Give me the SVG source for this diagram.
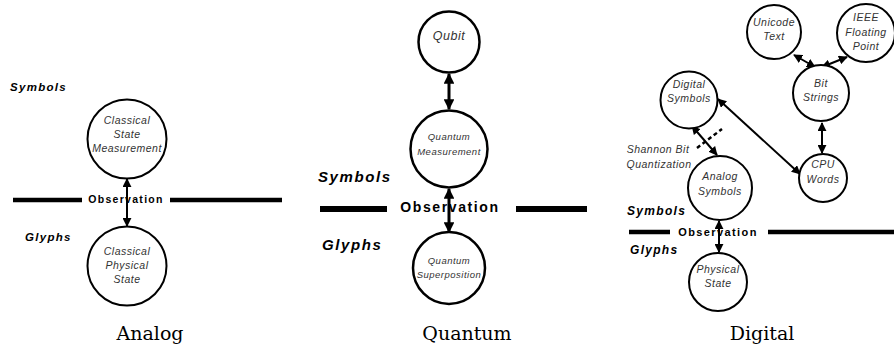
<svg xmlns="http://www.w3.org/2000/svg" width="894" height="345" viewBox="0 0 894 345">
<style>
.node{fill:#fff;stroke:#000;stroke-width:2}
.q{stroke-width:2.5}
.lbl{font-family:"Liberation Sans",Arial,sans-serif;font-style:italic;fill:#333;text-anchor:middle;letter-spacing:0.5px}
.side{font-family:"Liberation Sans",Arial,sans-serif;font-style:italic;font-weight:bold;fill:#000}
.obs{font-family:"Liberation Sans",Arial,sans-serif;font-weight:bold;fill:#000;text-anchor:middle}
.cap{font-family:"DejaVu Serif","Liberation Serif",serif;fill:#000;text-anchor:middle}
.bar{stroke:#000;fill:none}
.edge{stroke:#000;fill:none;stroke-width:2;marker-start:url(#ah);marker-end:url(#ah)}
.edgeq{stroke:#000;fill:none;stroke-width:3;marker-start:url(#ahq);marker-end:url(#ahq)}
</style>
<defs>
<marker id="ah" viewBox="0 0 10 10" refX="9" refY="5" markerWidth="4.5" markerHeight="4.5" orient="auto-start-reverse" markerUnits="strokeWidth"><path d="M0,0 L10,5 L0,10 z" fill="#000"/></marker>
<marker id="ahq" viewBox="0 0 10 10" refX="9" refY="5" markerWidth="3.6" markerHeight="3.6" orient="auto-start-reverse" markerUnits="strokeWidth"><path d="M0,0 L10,5 L0,10 z" fill="#000"/></marker>
</defs>

<!-- Analog panel -->
<g id="analog-labels">
<text class="side" x="10" y="91" font-size="11.5" letter-spacing="1.3">Symbols</text>
<text class="side" x="25" y="241" font-size="11.5" letter-spacing="1.3">Glyphs</text>
<line class="bar" x1="13" y1="200" x2="82" y2="200" stroke-width="4.5"/>
<line class="bar" x1="170" y1="200" x2="282" y2="200" stroke-width="4.5"/>
<text class="obs" x="126" y="203" font-size="10.5" letter-spacing="1.3">Observation</text>
<text class="cap" x="150" y="340" font-size="19">Analog</text>
</g>
<g id="connectors-analog">
<line class="edge" x1="127" y1="179" x2="127" y2="226"/>
</g>
<g id="classical-state-measurement">
<circle class="node" cx="127" cy="139" r="39.5"/>
<text class="lbl" x="127" y="124" font-size="10.5">Classical</text>
<text class="lbl" x="127" y="138" font-size="10.5">State</text>
<text class="lbl" x="127" y="152" font-size="10.5">Measurement</text>
</g>
<g id="classical-physical-state">
<circle class="node" cx="127" cy="266" r="39.5"/>
<text class="lbl" x="127" y="255" font-size="10.5">Classical</text>
<text class="lbl" x="127" y="269" font-size="10.5">Physical</text>
<text class="lbl" x="127" y="283" font-size="10.5">State</text>
</g>

<!-- Quantum panel -->
<g id="quantum-labels">
<text class="side" x="318" y="182" font-size="15" letter-spacing="1.6">Symbols</text>
<text class="side" x="322" y="250" font-size="15" letter-spacing="1.6">Glyphs</text>
<line class="bar" x1="320" y1="209" x2="387" y2="209" stroke-width="6"/>
<line class="bar" x1="516" y1="209" x2="587" y2="209" stroke-width="6"/>
<text class="obs" x="450" y="211.5" font-size="14" letter-spacing="1.6">Observation</text>
<text class="cap" x="467" y="340" font-size="19">Quantum</text>
</g>
<g id="connectors-quantum">
<line class="edgeq" x1="449" y1="74" x2="449" y2="109"/>
<line class="edgeq" x1="449" y1="189" x2="449" y2="232"/>
</g>
<g id="qubit">
<circle class="node q" cx="449" cy="42" r="30.5"/>
<text class="lbl" x="449" y="40" font-size="12.5" letter-spacing="0.8">Qubit</text>
</g>
<g id="quantum-measurement">
<circle class="node q" cx="449" cy="149" r="38.5"/>
<text class="lbl" x="449" y="140" font-size="9.5">Quantum</text>
<text class="lbl" x="449" y="155" font-size="9.5">Measurement</text>
</g>
<g id="quantum-superposition">
<circle class="node q" cx="449" cy="268" r="36"/>
<text class="lbl" x="449" y="264" font-size="9.5">Quantum</text>
<text class="lbl" x="449" y="278" font-size="9.5" letter-spacing="0.3">Superposition</text>
</g>

<!-- Digital panel -->
<g id="digital-labels">
<text class="side" x="627" y="215" font-size="12" letter-spacing="1.3">Symbols</text>
<text class="side" x="630" y="254" font-size="12" letter-spacing="1.3">Glyphs</text>
<line class="bar" x1="629" y1="232" x2="670" y2="232" stroke-width="4.5"/>
<line class="bar" x1="768" y1="232" x2="894" y2="232" stroke-width="4.5"/>
<text class="obs" x="718" y="236" font-size="11" letter-spacing="1.4">Observation</text>
<text class="lbl" x="658" y="153" font-size="10.5">Shannon Bit</text>
<text class="lbl" x="659" y="168" font-size="10.5">Quantization</text>
<text class="cap" x="762" y="340" font-size="19">Digital</text>
</g>
<g id="connectors-digital">
<line class="edge" x1="719" y1="221" x2="719" y2="252"/>
<line class="edge" x1="692" y1="126" x2="717" y2="155"/>
<line x1="697" y1="148" x2="722" y2="129" stroke="#000" stroke-width="2.5" stroke-dasharray="4,3"/>
<line class="edge" x1="718" y1="99" x2="800" y2="174"/>
<line class="edge" x1="822" y1="123" x2="822" y2="153"/>
<line class="edge" x1="794" y1="55" x2="815" y2="67"/>
<line class="edge" x1="822" y1="67" x2="847" y2="57"/>
</g>
<g id="unicode-text">
<circle class="node" cx="774" cy="32" r="27"/>
<text class="lbl" x="774" y="26" font-size="10.5">Unicode</text>
<text class="lbl" x="774" y="40" font-size="10.5">Text</text>
</g>
<g id="ieee-floating-point">
<circle class="node" cx="866" cy="33" r="29"/>
<text class="lbl" x="866" y="21" font-size="10.5">IEEE</text>
<text class="lbl" x="866" y="36" font-size="10.5">Floating</text>
<text class="lbl" x="866" y="50" font-size="10.5">Point</text>
</g>
<g id="bit-strings">
<circle class="node" cx="821" cy="93" r="28"/>
<text class="lbl" x="821" y="87" font-size="10.5">Bit</text>
<text class="lbl" x="821" y="101" font-size="10.5">Strings</text>
</g>
<g id="cpu-words">
<circle class="node" cx="823" cy="178" r="24"/>
<text class="lbl" x="823" y="168" font-size="10.5">CPU</text>
<text class="lbl" x="823" y="183" font-size="10.5">Words</text>
</g>
<g id="digital-symbols">
<circle class="node" cx="689" cy="100" r="28.5"/>
<text class="lbl" x="689" y="88" font-size="10.5">Digital</text>
<text class="lbl" x="689" y="102" font-size="10.5">Symbols</text>
</g>
<g id="analog-symbols">
<circle class="node" cx="720" cy="188" r="32"/>
<text class="lbl" x="720" y="180" font-size="10.5">Analog</text>
<text class="lbl" x="720" y="195" font-size="10.5">Symbols</text>
</g>
<g id="physical-state">
<circle class="node" cx="718" cy="282" r="29"/>
<text class="lbl" x="718" y="273" font-size="10.5">Physical</text>
<text class="lbl" x="718" y="287" font-size="10.5">State</text>
</g>
</svg>
